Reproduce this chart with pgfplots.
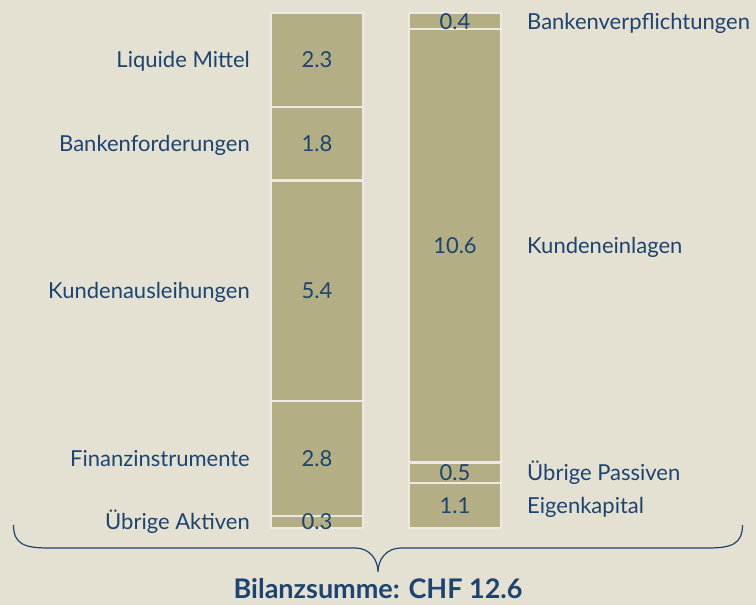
\documentclass[border=0pt]{standalone}
\usepackage{fontspec}
\setmainfont{Lato}
\usepackage{pgfplots}
\pgfplotsset{compat=1.18}
\definecolor{bg}{RGB}{228,225,211}
\definecolor{barc}{RGB}{179,174,132}
\definecolor{txt}{RGB}{28,68,112}
\colorlet{sep}{white!30!bg}
\pgfplotsset{base/.style={
  width=756pt,height=605pt,scale only axis,
  xmin=0,xmax=756,ymin=-1.884,ymax=12.918,
  hide axis, clip=false},
  seg/.style={fill=barc,draw=sep,line width=2.2pt},
  lbl/.style={only marks, mark=none, nodes near coords, point meta=explicit symbolic,
  nodes near coords style={anchor=base #1, yshift=-8pt, font=\fontsize{22}{22}\selectfont, text=txt, inner sep=0pt}}}
\begin{document}
\begin{tikzpicture}
\begin{axis}[base]
\fill[bg] (rel axis cs:0,0) rectangle (rel axis cs:1,1);
\end{axis}
\begin{axis}[base, ybar stacked, bar width=92]
% left bar: Aktiven (bottom to top), right bar: Passiven
\addplot[seg] coordinates {(317,0.3)(455,1.1)};
\addplot[seg] coordinates {(317,2.8)(455,0.5)};
\addplot[seg] coordinates {(317,5.4)(455,10.6)};
\addplot[seg] coordinates {(317,1.8)(455,0.4)};
\addplot[seg] coordinates {(317,2.3)};
\end{axis}
\begin{axis}[base]
\addplot[lbl=] coordinates {(317,0.15)[0.3] (317,1.7)[2.8] (317,5.8)[5.4] (317,9.4)[1.8] (317,11.45)[2.3]
               (455,0.55)[1.1] (455,1.35)[0.5] (455,6.9)[10.6] (455,12.4)[0.4]};
\addplot[lbl=east] coordinates {(250,0.15)[Übrige Aktiven] (250,1.7)[Finanzinstrumente] (250,5.8)[Kundenausleihungen]
               (250,9.4)[Bankenforderungen] (250,11.45)[Liquide Mittel]};
\addplot[lbl=west] coordinates {(527,0.55)[Eigenkapital] (527,1.35)[Übrige Passiven] (527,6.9)[Kundeneinlagen]
               (527,12.4)[Bankenverpflichtungen]};
\draw[txt, line width=1.2pt]
  (axis cs:13.5,0.073) .. controls (axis cs:13.5,-0.40) and (axis cs:25,-0.489) .. (axis cs:48,-0.489)
  -- (axis cs:355,-0.489) .. controls (axis cs:370,-0.489) and (axis cs:378,-0.78) .. (axis cs:378,-1.077)
  .. controls (axis cs:378,-0.78) and (axis cs:386,-0.489) .. (axis cs:401,-0.489)
  -- (axis cs:708,-0.489) .. controls (axis cs:731,-0.489) and (axis cs:742.5,-0.40) .. (axis cs:742.5,0.073);
\node[txt, anchor=base, font=\fontsize{27}{27}\selectfont\bfseries, inner sep=0pt] at (axis cs:378,-1.72) {Bilanzsumme: CHF 12.6};
\end{axis}
\end{tikzpicture}
\end{document}
